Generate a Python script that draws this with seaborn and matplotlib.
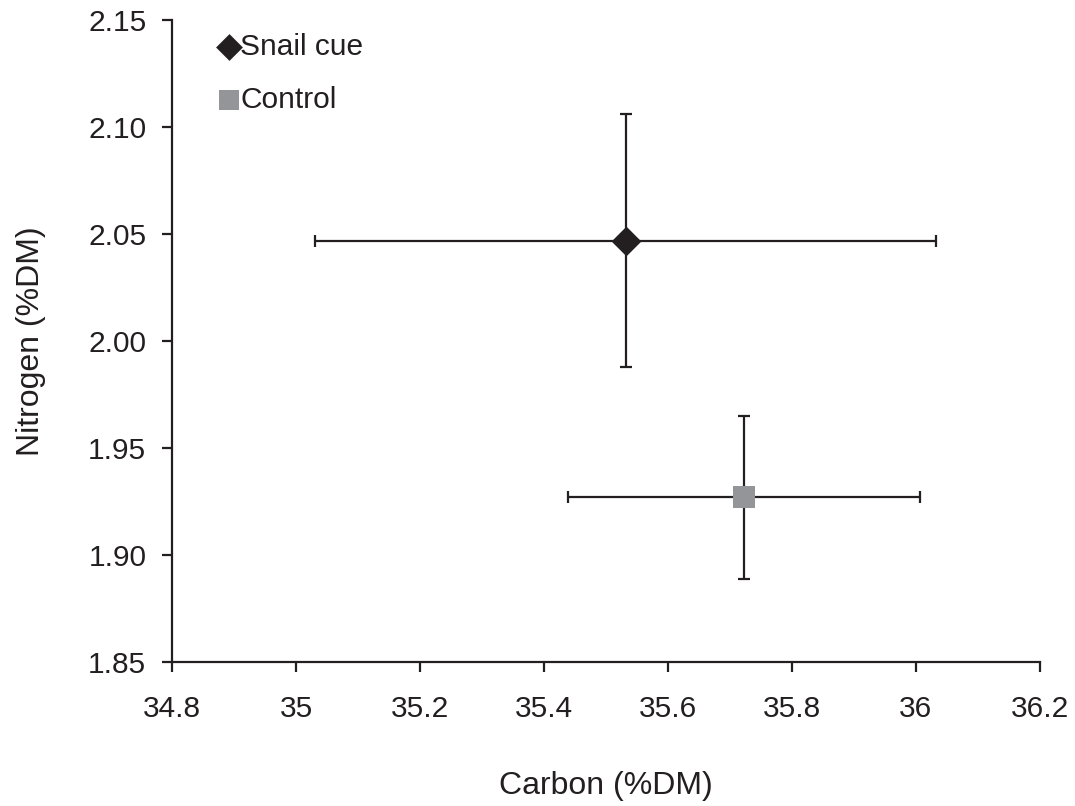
import matplotlib
matplotlib.use("Agg")
import matplotlib.pyplot as plt
import seaborn as sns
import pandas as pd

# Mean carbon and nitrogen content (% dry mass) with error bars
treatments = ["Snail cue", "Control"]
carbon = [35.532, 35.723]
nitrogen = [2.047, 1.927]
carbon_err = [0.501, 0.284]
nitrogen_err = [0.059, 0.038]

x_ticks = [34.8, 35.0, 35.2, 35.4, 35.6, 35.8, 36.0, 36.2]
x_tick_labels = ["34.8", "35", "35.2", "35.4", "35.6", "35.8", "36", "36.2"]
y_ticks = [1.85, 1.90, 1.95, 2.00, 2.05, 2.10, 2.15]

df = pd.DataFrame({"Treatment": treatments, "Carbon": carbon, "Nitrogen": nitrogen})

sns.set_theme(style="ticks")
plt.rcParams["font.family"] = ["Liberation Sans", "DejaVu Sans"]

TICK_FS = 21.5
LABEL_FS = 23
LEGEND_FS = 21.5
ink = "#231f20"

fig = plt.figure(figsize=(10.75, 8.06), dpi=100)
ax = fig.add_axes([0.16, 0.1787, 0.8074, 0.7963])

ax.errorbar(carbon, nitrogen, xerr=carbon_err, yerr=nitrogen_err, fmt="none",
            ecolor=ink, elinewidth=1.6, capsize=4.5, capthick=1.6, zorder=1)

palette = {"Snail cue": ink, "Control": "#939598"}
markers = {"Snail cue": "D", "Control": "s"}
sizes = {"Snail cue": 230, "Control": 250}
for t in treatments:
    sub = df[df["Treatment"] == t]
    sns.scatterplot(data=sub, x="Carbon", y="Nitrogen", color=palette[t],
                    marker=markers[t], s=sizes[t], linewidth=0, ax=ax,
                    zorder=3, label=t)

ax.set_xlim(34.8, 36.2)
ax.set_ylim(1.85, 2.15)
ax.set_xticks(x_ticks)
ax.set_xticklabels(x_tick_labels)
ax.set_yticks(y_ticks)
ax.set_yticklabels([f"{v:.2f}" for v in y_ticks])

ax.tick_params(axis="both", labelsize=TICK_FS, length=7, width=1.6, color=ink,
               labelcolor=ink, direction="out")
ax.tick_params(axis="x", pad=17)
ax.tick_params(axis="y", pad=11.5)
for s in ["top", "right"]:
    ax.spines[s].set_visible(False)
for s in ["left", "bottom"]:
    ax.spines[s].set_linewidth(1.6)
    ax.spines[s].set_color(ink)

ax.set_xlabel("Carbon (%DM)", fontsize=LABEL_FS, color=ink, labelpad=34)
ax.set_ylabel("Nitrogen (%DM)", fontsize=LABEL_FS, color=ink, labelpad=30)

leg = ax.legend(loc="upper left", bbox_to_anchor=(0.029, 1.013), frameon=False,
                fontsize=LEGEND_FS, handletextpad=0.0, labelspacing=0.84,
                handlelength=0.75, markerscale=0.9, borderaxespad=0.3)
for txt in leg.get_texts():
    txt.set_color(ink)

fig.savefig("out.png", dpi=100)
